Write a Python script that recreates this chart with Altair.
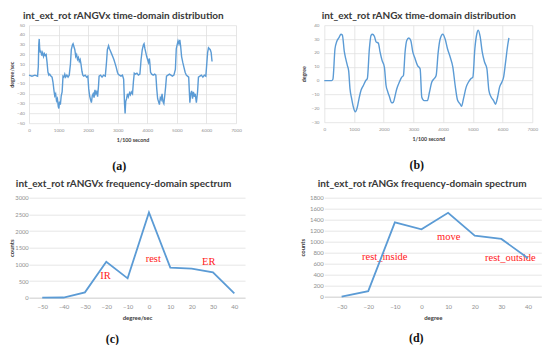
import altair as alt
import pandas as pd

# ---------------- data ----------------
series_a = [(0,-1),(100,-2),(200,-1),(290,-2),(315,8),(330,30),(345,36),(360,27),(380,22),(400,24),
            (430,19),(460,22),(490,18),(520,21),(550,19),(580,20),(610,12),(640,2),(670,-1),(700,0),
            (740,-2),(780,-3),(810,-8),(850,-18),(870,-22),(900,-20),(930,-27),(960,-25),(990,-33),(1010,-35),
            (1030,-28),(1060,-31),(1090,-22),(1120,-18),(1150,-2),(1180,-3),(1210,0),(1240,-3),(1280,-1),(1320,-3),
            (1360,-1),(1400,10),(1430,25),(1470,30),(1490,31),(1520,28),(1550,25),(1580,18),(1610,20),(1640,15),
            (1670,17),(1700,13),(1730,15),(1760,10),(1790,3),(1820,-1),(1850,-2),(1900,-1),(1950,-3),(1990,-2),
            (2020,-15),(2050,-22),(2080,-26),(2110,-29),(2140,-22),(2170,-20),(2200,-24),(2230,-16),(2260,-20),(2290,-18),
            (2320,-23),(2350,-12),(2370,-2),(2420,-1),(2470,-3),(2520,-1),(2580,-2),(2620,12),(2650,25),(2690,29),
            (2720,26),(2750,24),(2790,21),(2830,18),(2870,15),(2910,11),(2950,7),(2990,2),(3020,0),(3060,-1),
            (3110,-2),(3160,-1),(3200,-5),(3230,-30),(3250,-40),(3270,-28),(3300,-25),(3330,-20),(3360,-23),(3400,-19),
            (3430,-21),(3460,-18),(3500,-20),(3530,-8),(3560,1),(3600,0),(3650,1),(3700,-1),(3750,0),(3790,15),
            (3830,25),(3870,30),(3890,31),(3920,26),(3950,22),(3980,18),(4010,15),(4040,12),(4070,16),(4090,10),
            (4110,2),(4150,0),(4200,-1),(4250,0),(4290,-1),(4320,-15),(4350,-25),(4380,-28),(4410,-31),(4440,-24),
            (4470,-26),(4500,-20),(4530,-28),(4560,-30),(4590,-22),(4620,-13),(4650,-2),(4700,-1),(4750,0),(4800,-1),
            (4850,-2),(4900,-1),(4950,5),(4980,26),(5010,30),(5040,34),(5070,31),(5100,35),(5130,28),(5160,18),
            (5200,12),(5240,7),(5280,2),(5320,-1),(5360,-2),(5400,-3),(5440,-29),(5470,-20),(5500,-17),(5530,-25),
            (5560,-18),(5590,-23),(5620,-20),(5660,-29),(5700,-18),(5730,-3),(5780,-2),(5830,-1),(5880,-3),(5930,-1),
            (5980,-2),(6010,10),(6040,22),(6070,27),(6100,26),(6130,25),(6160,22),(6190,13)]

series_b = [(0,0),(247,0),(290,1),(360,23),(416,28),(494,31),(562,33.5),(607,33),(674,21),(719,16),
            (775,11),(820,7),(865,-6),(921,-13),(978,-19),(1045,-22.5),(1112,-19),(1169,-13),(1236,-7),(1315,-3.5),
            (1393,0),(1449,1.5),(1517,23),(1573,32.7),(1618,33.5),(1685,32),(1742,28),(1820,27),(1876,20.7),(1944,14.6),
            (2022,9.8),(2079,-3.5),(2135,-8),(2191,-11.5),(2270,-16),(2326,-15.5),(2382,-11),(2438,-6),(2528,-1),(2607,2.5),
            (2663,3.7),(2719,20.7),(2775,29),(2843,30.8),(2910,29),(2978,20.7),(3056,15.8),(3135,11),(3225,8.6),(3281,-12),
            (3360,-14.4),(3472,-14.4),(3539,-8.4),(3618,-1),(3697,1.4),(3764,3.7),(3831,20),(3899,30),(3989,33.5),(4067,30),
            (4146,23),(4236,17),(4326,9.8),(4404,-3.5),(4483,-14),(4573,-17),(4618,-18.5),(4685,-13),(4775,-4.7),(4854,-1),
            (4933,1.4),(5000,2.5),(5067,23),(5135,34),(5180,36.4),(5247,31.5),(5315,20.7),(5393,13.4),(5472,8.6),(5539,-7),
            (5618,-12),(5697,-14.4),(5764,-17),(5831,-12),(5899,-4.7),(5978,-1),(6034,2.5),(6101,13.4),(6169,25),(6213,30.8)]

bins_c = [-50, -40, -30, -20, -10, 0, 10, 20, 30, 40]
counts_c = [0, 5, 160, 1080, 580, 2560, 900, 870, 760, 130]
notes_c = ["IR", "rest", "ER"]
notes_c_x = [-20.4, 2.0, 28.0]
notes_c_y = [650, 1160, 1070]

bins_d = [-30, -20, -10, 0, 10, 20, 30, 40]
counts_d = [0, 100, 1350, 1225, 1525, 1110, 1050, 700]
notes_d = ["rest_inside", "move", "rest_outside"]
notes_d_x = [-13.8, 10.2, 33.4]
notes_d_y = [713, 1088, 695]

titles = ["int_ext_rot rANGVx time-domain distribution",
          "int_ext_rot rANGx time-domain distribution",
          "int_ext_rot rANGVx frequency-domain spectrum",
          "int_ext_rot rANGx frequency-domain spectrum"]
panel_labels = ["(a)", "(b)", "(c)", "(d)"]

time_ticks = [0, 1000, 2000, 3000, 4000, 5000, 6000, 7000]
ticks_a_y = [-50, -40, -30, -20, -10, 0, 10, 20, 30, 40, 50]
ticks_b_y = [-30, -20, -10, 0, 10, 20, 30, 40]
ticks_c_y = [0, 500, 1000, 1500, 2000, 2500, 3000]
ticks_d_y = [0, 200, 400, 600, 800, 1000, 1200, 1400, 1600, 1800]

# ---------------- style ----------------
BLUE = "#5b9bd5"
GRID = "#e0e0e0"
LAB = "#8f8f8f"
TIT = "#383838"
RED = "#ff1a1a"
SANS = "Lato"
SERIF = "Liberation Serif"


def title_mark(text, x, y):
    return alt.Chart(pd.DataFrame({"s": [text]})).mark_text(
        font=SANS, fontSize=10, fontWeight="bold", color=TIT, align="center", baseline="middle"
    ).encode(x=alt.value(x), y=alt.value(y), text="s:N")


def plabel(text, x, y):
    return alt.Chart(pd.DataFrame({"s": [text]})).mark_text(
        font=SERIF, fontSize=12, fontWeight="bold", color="#111111", baseline="middle"
    ).encode(x=alt.value(x), y=alt.value(y), text="s:N")


def ax(title, values, fs, lpad, tpad, tfs, grid=True, domain=False):
    kw = dict(title=title, values=values, format="d", grid=grid, gridColor=GRID, gridWidth=0.8,
              ticks=False, tickSize=0, domain=domain, labelFont=SANS, labelFontSize=fs,
              labelColor=LAB, labelPadding=lpad, titleFont=SANS, titleFontSize=tfs,
              titleFontWeight="bold", titleColor=TIT, titlePadding=tpad, labelFlush=False)
    if domain:
        kw.update(domainColor="#d0d0d0", domainWidth=0.8)
    return alt.Axis(**kw)


# (a)
df_a = pd.DataFrame(series_a, columns=["t", "v"])
line_a = alt.Chart(df_a).mark_line(color=BLUE, strokeWidth=1.4).encode(
    x=alt.X("t:Q", scale=alt.Scale(domain=[0, 7000], nice=False, zero=False),
            axis=ax("1/100 second", time_ticks, 4.6, 4.5, 5, 5.3)),
    y=alt.Y("v:Q", scale=alt.Scale(domain=[-50, 50], nice=False),
            axis=ax("degree/sec", ticks_a_y, 4.6, 4.5, 2.5, 5.3)),
)
pa = alt.layer(line_a, title_mark(titles[0], 94.3, -9.5), plabel(panel_labels[0], 90.3, 140.7)
               ).properties(width=207, height=98)

# (b)
df_b = pd.DataFrame(series_b, columns=["t", "v"])
line_b = alt.Chart(df_b).mark_line(color=BLUE, strokeWidth=1.4, interpolate="monotone").encode(
    x=alt.X("t:Q", scale=alt.Scale(domain=[0, 7000], nice=False, zero=False),
            axis=ax("1/100 second", time_ticks, 4.6, 4.5, 5, 5.3)),
    y=alt.Y("v:Q", scale=alt.Scale(domain=[-30, 40], nice=False),
            axis=ax("degree", ticks_b_y, 4.6, 5.3, 5, 5.3)),
)
pb = alt.layer(line_b, title_mark(titles[1], 94.5, -9.5), plabel(panel_labels[1], 92.5, 140.2)
               ).properties(width=208, height=97)

# (c)
df_c = pd.DataFrame({"bin": bins_c, "count": counts_c})
nc = pd.DataFrame({"txt": notes_c, "bin": notes_c_x, "count": notes_c_y})
xc = alt.X("bin:Q", scale=alt.Scale(domain=[-56.2, 45], nice=False, zero=False),
           axis=ax("degree/sec", bins_c, 6, 6, 5, 6, grid=False, domain=True))
yc = alt.Y("count:Q", scale=alt.Scale(domain=[0, 3000], nice=False),
           axis=ax("counts", ticks_c_y, 5.8, 0.8, 0, 6))
txt_c = alt.Chart(nc).mark_text(font=SERIF, fontSize=10.5, color=RED, baseline="middle").encode(
    x=xc, y=yc, text="txt:N")
line_c = alt.Chart(df_c).mark_line(color=BLUE, strokeWidth=1.8).encode(x=xc, y=yc)
pc = alt.layer(txt_c, line_c, title_mark(titles[2], 94.6, -13.5), plabel(panel_labels[2], 83.3, 141.3)
               ).properties(width=216, height=100)

# (d)
df_d = pd.DataFrame({"bin": bins_d, "count": counts_d})
nd = pd.DataFrame({"txt": notes_d, "bin": notes_d_x, "count": notes_d_y})
xd = alt.X("bin:Q", scale=alt.Scale(domain=[-36.5, 45], nice=False, zero=False),
           axis=ax("degree", bins_d, 6, 6.5, 5, 6, grid=False, domain=True))
yd = alt.Y("count:Q", scale=alt.Scale(domain=[0, 1800], nice=False),
           axis=ax("counts", ticks_d_y, 6, 1, 3.4, 6))
txt_d = alt.Chart(nd).mark_text(font=SERIF, fontSize=10.5, color=RED, baseline="middle").encode(
    x=xd, y=yd, text="txt:N")
line_d = alt.Chart(df_d).mark_line(color=BLUE, strokeWidth=1.8).encode(x=xd, y=yd)
pd_ = alt.layer(txt_d, line_d, title_mark(titles[3], 97.8, -13.5), plabel(panel_labels[3], 92, 140)
                ).properties(width=217, height=99)

chart = alt.concat(pa, pb, pc, pd_, columns=2, spacing={"row": 74.5, "column": 79.3},
                   bounds="flush").properties(
    padding={"top": 2.2, "left": 0, "right": 0, "bottom": 0}
).configure_view(stroke=None)

chart.save("out.html", embed_options={"renderer": "svg", "actions": False})
